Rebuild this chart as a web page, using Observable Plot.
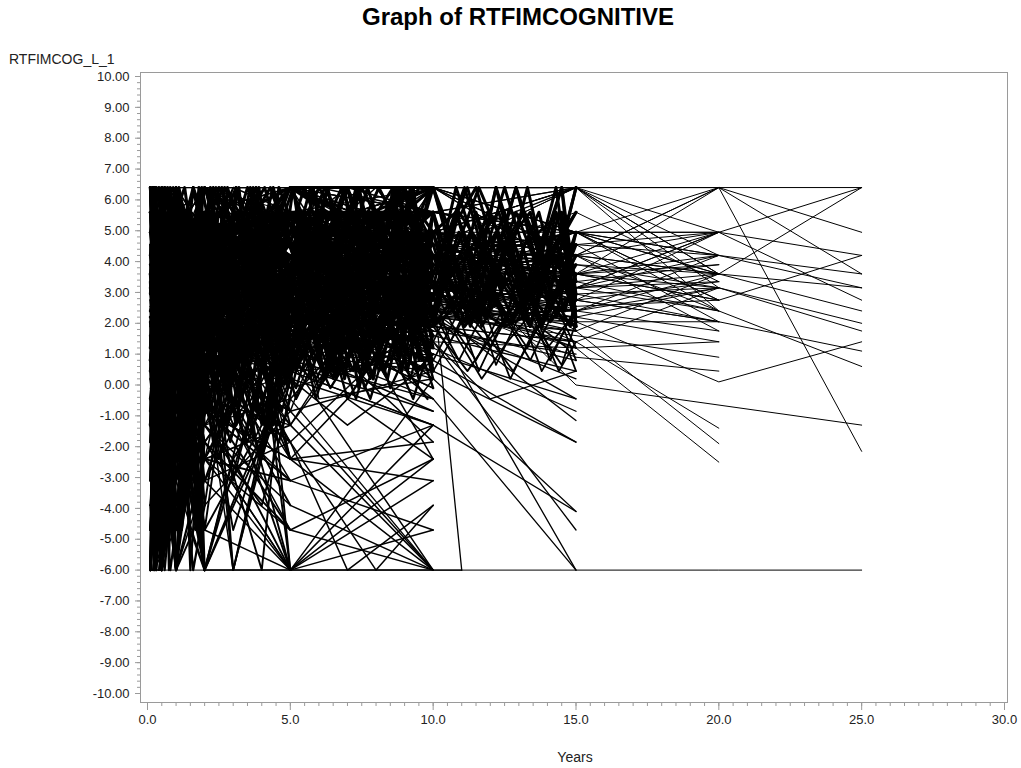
<!DOCTYPE html>
<html><head><meta charset="utf-8">
<script src="https://cdn.jsdelivr.net/npm/d3@7"></script>
<script src="https://cdn.jsdelivr.net/npm/@observablehq/plot@0.6"></script>
<style>
body{margin:0;background:#fff;font-family:"Liberation Sans",Arial,sans-serif;color:#222;}
#wrap{position:relative;width:1021px;height:768px;overflow:hidden;}
#chart{position:absolute;top:40px;left:0;z-index:1;}
#title{position:absolute;top:3px;left:0;width:1036px;text-align:center;font-weight:bold;font-size:24px;color:#000;z-index:2;}
#ylab{position:absolute;left:9px;top:51px;font-size:14px;z-index:2;}
#xlab{position:absolute;top:749px;left:0;width:1150px;text-align:center;font-size:14px;z-index:2;}
</style></head>
<body><div id="wrap">
<div id="chart"></div>
<div id="title">Graph of RTFIMCOGNITIVE</div>
<div id="ylab">RTFIMCOG_L_1</div>
<div id="xlab">Years</div>
</div>
<script>
// Axis tick values
const xTicks = [0, 5, 10, 15, 20, 25, 30];
const yTicks = [-10, -9, -8, -7, -6, -5, -4, -3, -2, -1, 0, 1, 2, 3, 4, 5, 6, 7, 8, 9, 10];

// Trajectories: flat [year, value, year, value, ...] per subject, grouped by last follow-up
const followTo25 = [
[0.1,6.4,1,6.4,2,6.4,5,6.4,10,6.4,15,6.4,20,6.4,25,6.4],
[0.1,-6,1,-6,2,-6,5,-6,10,-6,15,-6,20,-6,25,-6],
[0.3,2.4,1,3.6,2,4.2,5,4.95,10,5.6,15,6.4,20,6.4,25,4.95],
[0.2,1.4,1,2.75,2,3.15,5,4.2,10,4.2,15,4.95,20,3.6,25,6.4],
[0.4,-1.3,1,0.65,2,2.05,5,3.15,10,3.6,15,3.15,20,4.2,25,3.15],
[0.1,-3.1,0.5,0.2,1,1.75,2,2.4,5,2.75,10,3.15,15,2.75,20,4.95,25,2.75],
[0.3,0.8,1,2.2,2,2.95,5,3.6,10,4.2,15,3.6,20,2.75,25,4.2],
[0.2,3.6,1,4.2,2,4.95,5,5.6,10,4.95,15,4.2,20,6.4,25,-2.15],
[0.5,-0.45,1,1.2,2,1.9,5,2.4,10,2.75,15,2.4,20,3.15,25,1.75],
[0.2,2.05,1,3.15,2,3.6,5,4.2,10,3.9,15,4.95,20,4.2,25,3.6],
[0.3,-2.4,1,-0.1,2,1.0,5,1.75,10,2.2,15,2.05,20,0.1,25,1.4],
[0.1,0.2,1,1.6,2,2.55,5,2.95,10,3.35,15,3.15,20,2.4,25,0.6],
[0.2,1.0,1,2.4,2,3.35,5,3.9,10,4.55,15,0.0,25,-1.3],
[0.1,4.2,1,4.95,2,6.4,5,6.4,10,6.4,15,4.2,20,4.95,25,6.4],
[0.3,-0.85,1,1.4,2,2.2,5,2.75,10,3.6,15,3.6,20,3.15,25,2.0],
[0.2,2.75,1,3.6,2,4.55,5,4.95,10,4.95,15,6.4,20,3.6,25,3.15],
[0.4,-4.7,1,-1.3,2,0.45,5,1.4,10,2.4,15,2.75,20,2.05,25,1.1],
[0.1,3.15,1,3.9,2,4.2,5,4.55,10,6.4,15,4.95,20,4.95,25,4.2],
[0.2,0.45,1,1.9,2,2.75,5,3.35,10,3.15,15,4.2,20,6.4,25,3.6],
[0.3,1.75,1,2.95,2,3.9,5,4.2,10,4.95,15,3.15,20,3.6,25,2.4]
];
const followTo20 = [
[0.2,2.2,1,3.35,2,3.9,5,4.55,10,4.2,15,6.4,20,4.95],
[0.1,-1.85,1,0.8,2,1.6,5,2.4,10,2.95,15,2.4,20,3.6],
[0.3,3.9,1,4.55,2,4.95,5,6.4,10,5.6,15,4.95,20,2.75],
[0.2,0.65,1,2.05,2,2.55,5,3.35,10,3.6,15,3.9,20,3.15],
[0.5,-2.4,1,-0.45,2,1.2,5,2.2,10,2.4,15,1.75,20,-1.9],
[0.1,1.2,1,2.75,2,3.6,5,3.9,10,4.55,15,4.55,20,4.2],
[0.2,4.95,1,6.4,2,6.4,5,4.95,10,6.4,15,6.4,20,3.6],
[0.3,-0.1,1,1.75,2,2.4,5,3.15,10,3.15,15,2.75,20,2.05],
[0.1,2.55,1,3.6,2,4.2,5,4.2,10,4.95,15,3.6,20,4.95],
[0.4,-3.9,1,-1.85,2,-0.45,5,0.8,10,1.4,15,1.2,20,-2.5],
[0.2,1.6,1,2.55,2,3.15,5,3.6,10,3.9,15,4.2,20,2.4],
[0.3,3.35,1,4.2,2,4.55,5,4.95,10,4.2,15,4.95,20,6.4],
[0.1,0.2,1,1.4,2,2.05,5,2.55,10,2.75,15,0.9,20,0.45],
[0.2,2.95,1,3.9,2,4.95,5,6.4,10,6.4,15,6.4,20,6.4],
[0.5,-1.3,1,0.45,2,1.75,5,2.75,10,3.35,15,3.35,20,3.9],
[0.1,1.9,1,3.15,2,3.6,5,3.9,10,3.6,15,4.2,20,1.75],
[0.3,0.8,1,2.2,2,2.95,5,3.15,10,2.95,15,2.2,20,1.4],
[0.2,4.2,1,4.95,2,5.6,5,6.4,10,4.95,15,6.4,20,4.2],
[0.4,-0.45,1,1.0,2,1.9,5,2.2,10,2.55,15,3.15,20,3.35],
[0.1,2.4,1,3.35,2,4.2,5,4.55,10,5.6,15,4.95,20,4.95],
[0.2,-2.4,1,0.2,2,1.4,5,2.05,10,1.9,15,1.4,20,-1.4],
[0.3,3.6,1,4.55,2,4.95,5,4.95,10,4.55,15,3.9,20,3.6],
[0.1,1.4,1,2.4,2,3.35,5,3.6,10,4.2,15,6.4,20,3.15],
[0.2,0.45,1,1.6,2,2.2,5,2.95,10,3.15,15,2.55,20,2.75],
[0.4,2.05,1,2.95,2,3.6,5,4.2,10,3.9,15,3.6,20,4.2],
[0.1,-1.3,1,0.65,2,1.2,5,1.6,10,2.2,15,1.6,20,0.9],
[0.3,4.55,1,6.4,2,4.95,5,6.4,10,6.4,15,4.95,20,3.6],
[0.2,1.2,1,2.2,2,2.75,5,3.35,10,3.6,15,3.35,20,2.4],
[0.2,2.75,1,3.6,2,3.9,5,4.55,10,4.95,15,2.95,20,3.15],
[0.1,0.8,1,1.9,2,2.55,5,2.75,10,2.4,15,2.05,20,2.05],
[0.2,3.15,1,3.9,2,4.55,5,4.95,10,4.2,15,4.2,20,3.6],
[0.1,1.75,1,2.55,2,3.35,5,3.6,10,3.35,15,2.75,20,3.35],
[0.3,4.2,1,4.95,2,6.4,5,5.6,10,4.95,15,4.95,20,4.2],
[0.2,0.8,1,1.9,2,2.4,5,2.95,10,2.95,15,3.6,20,2.75],
[0.1,2.55,1,3.6,2,3.9,5,4.2,10,4.55,15,3.15,20,4.95],
[0.4,-0.85,1,0.8,2,1.6,5,2.2,10,2.4,15,2.2,20,3.15],
[0.2,3.6,1,4.55,2,4.95,5,4.95,10,6.4,15,6.4,20,2.4],
[0.1,1.2,1,2.2,2,2.95,5,3.35,10,3.9,15,4.2,20,3.6],
[0.3,2.2,1,3.15,2,3.6,5,3.9,10,3.6,15,2.95,20,2.05],
[0.2,4.95,1,5.6,2,4.95,5,6.4,10,5.6,15,4.55,20,4.95],
[0.1,0.45,1,1.4,2,2.2,5,2.55,10,2.75,15,2.4,20,1.75],
[0.2,2.95,1,3.35,2,4.2,5,4.55,10,4.2,15,3.6,20,3.9],
[0.2,4.2,1,3.6,2,4.95,5,4.2,10,4.55,15,2.4,20,4.2],
[0.1,2.4,1,2.95,2,3.6,5,3.9,10,3.15,15,4.95,20,2.75],
[0.3,3.15,1,4.2,2,4.55,5,4.95,10,4.95,15,1.75,20,3.6],
[0.2,1.6,1,2.4,2,3.15,5,3.35,10,2.95,15,4.55,20,2.05],
[0.1,4.95,1,5.6,2,6.4,5,4.95,10,4.2,15,3.15,20,4.95],
[0.4,0.8,1,1.75,2,2.4,5,2.75,10,3.35,15,1.4,20,3.15],
[0.2,3.6,1,4.55,2,4.2,5,4.55,10,3.9,15,5.6,20,3.35],
[0.1,2.2,1,2.95,2,3.35,5,3.6,10,2.55,15,1.2,20,1.4],
[0.3,5.6,1,4.95,2,4.95,5,6.4,10,6.4,15,3.6,20,6.4],
[0.2,1.2,1,2.05,2,2.75,5,3.15,10,3.6,15,4.95,20,2.4]
];
const followTo15 = [
[0.2,3.15,1,4.2,2,4.95,5,4.95,10,6.4,15,6.4],
[0.1,-0.85,1,1.2,2,2.4,5,2.75,10,3.15,15,3.6],
[0.3,1.9,1,2.95,2,3.35,5,4.2,10,4.55,15,4.2],
[0.2,-3.1,1,-0.45,2,0.8,5,1.75,10,2.05,15,-6],
[0.1,4.95,1,6.4,2,6.4,5,6.4,10,4.95,15,3.9],
[0.4,0.2,1,1.75,2,2.2,5,2.95,10,2.75,15,3.15],
[0.2,2.4,1,3.6,2,4.2,5,3.9,10,4.2,15,2.75],
[0.3,-1.85,1,0.45,2,1.4,5,2.4,10,1.4,15,-4.7],
[0.1,3.6,1,4.55,2,4.95,5,5.6,10,6.4,15,4.95],
[0.2,1.2,1,2.4,2,3.15,5,3.35,10,3.9,15,3.35],
[0.5,-4.7,1,-2.4,2,-0.85,5,0.45,10,0.8,15,-1.85],
[0.1,2.2,1,3.15,2,3.6,5,4.55,10,3.6,15,4.55],
[0.3,0.65,1,1.9,2,2.75,5,3.15,10,3.35,15,2.4],
[0.2,4.2,1,4.95,2,5.6,5,4.95,10,4.55,15,6.4],
[0.1,-0.45,1,0.8,2,1.6,5,2.2,10,2.95,15,2.05],
[0.4,2.75,1,3.9,2,4.2,5,4.2,10,4.95,15,4.2],
[0.2,1.6,1,2.55,2,2.95,5,3.6,10,2.4,15,1.4],
[0.3,-2.4,1,-0.1,2,1.0,5,1.6,10,0.2,15,-4.1],
[0.1,3.9,1,4.95,2,6.4,5,6.4,10,6.4,15,3.6],
[0.2,0.8,1,2.2,2,2.75,5,3.15,10,3.6,15,3.15],
[0.5,2.05,1,3.35,2,3.9,5,4.95,10,4.2,15,4.95],
[0.1,-1.3,1,0.65,2,1.9,5,2.55,10,2.2,15,1.75],
[0.3,4.55,1,5.6,2,4.95,5,6.4,10,5.6,15,6.4],
[0.2,1.4,1,2.4,2,3.6,5,3.9,10,3.15,15,2.75],
[0.1,-3.9,1,-1.3,2,0.2,5,1.2,10,1.6,15,0.45],
[0.4,2.95,1,3.6,2,4.55,5,4.55,10,3.9,15,3.9],
[0.2,0.45,1,1.4,2,2.4,5,2.75,10,2.55,15,2.2],
[0.3,3.35,1,4.2,2,4.95,5,4.2,10,4.95,15,4.55],
[0.1,-0.1,1,1.2,2,2.05,5,2.4,10,1.75,15,1.0],
[0.2,2.55,1,3.6,2,3.9,5,4.55,10,4.2,15,3.6],
[0.5,-6,1,-3.1,2,-1.3,5,-0.45,10,-6,11,-6],
[0.2,1.75,1,2.95,2,3.35,5,3.35,10,3.6,15,4.2],
[0.1,4.2,1,4.2,2,4.95,5,4.95,10,5.6,15,4.95],
[0.3,0.2,1,1.6,2,2.2,5,2.95,10,2.95,15,1.2],
[0.2,2.2,1,3.15,2,4.2,5,3.6,10,4.55,15,3.35],
[0.4,-1.85,1,-0.1,2,1.2,5,1.9,10,2.4,15,-1.15],
[0.1,3.15,1,4.55,2,4.55,5,5.6,10,4.95,15,6.4],
[0.2,1.0,1,2.05,2,2.95,5,3.35,10,3.15,15,2.95],
[0.3,2.4,1,3.35,2,3.6,5,4.2,10,3.35,15,2.55],
[0.1,-0.85,1,0.45,2,1.75,5,2.05,10,2.05,15,0.2],
[0.2,3.9,1,4.95,2,4.95,5,4.55,10,6.4,15,4.2],
[0.5,1.4,1,2.75,2,3.15,5,3.9,10,4.2,15,3.9],
[0.1,0.65,1,1.75,2,2.55,5,2.55,10,1.2,15,-0.85],
[0.3,2.75,1,3.9,2,4.55,5,4.95,10,3.9,15,4.95],
[0.2,-2.4,1,-0.85,2,0.45,5,1.0,10,0.45,15,-1.85],
[0.1,4.95,1,5.6,2,6.4,5,4.95,10,4.55,15,3.15],
[0.4,1.9,1,2.95,2,3.6,5,3.6,10,3.6,15,4.55],
[0.2,0.2,1,1.0,2,1.9,5,2.4,10,2.75,15,1.9],
[0.3,3.35,1,4.2,2,4.2,5,4.95,10,4.2,15,3.6],
[0.1,1.2,1,2.2,2,2.75,5,3.15,10,2.2,15,2.4],
[0.2,-1.3,1,0.2,2,1.2,5,1.4,10,-0.45,15,-6],
[0.1,2.95,1,3.6,2,4.2,5,4.2,10,3.15,15,2.75],
[0.3,0.8,1,1.9,2,2.4,5,2.95,10,2.4,15,3.15],
[0.2,4.55,1,4.95,2,5.6,5,6.4,10,4.95,15,4.2],
[0.5,-0.45,1,1.0,2,2.05,5,2.2,10,1.9,15,0.8],
[0.1,2.05,1,3.15,2,3.35,5,3.9,10,3.6,15,3.6],
[0.2,1.6,1,2.75,2,3.6,5,3.6,10,2.95,15,2.05],
[0.3,-3.1,1,-1.3,2,-0.1,5,0.8,10,1.0,15,-0.45],
[0.2,3.6,1,4.2,2,4.55,5,4.2,10,4.95,12,3.6,15,4.55],
[0.1,1.4,1,2.75,2,3.35,5,3.15,10,2.55,15,3.35],
[0.3,4.95,1,4.55,2,5.6,5,6.4,10,3.9,15,4.95],
[0.2,0.8,1,1.6,2,2.95,5,3.35,10,3.35,15,2.05],
[0.1,2.75,1,3.35,2,4.2,5,4.55,10,4.55,15,3.15],
[0.4,-0.45,1,0.8,2,2.2,5,2.55,10,3.15,15,2.4],
[0.2,2.2,1,3.6,2,3.9,5,4.95,10,3.6,15,4.2],
[0.1,3.9,1,4.95,2,4.95,5,4.2,10,4.2,15,3.6],
[0.3,1.9,1,2.4,2,3.15,5,3.6,10,3.9,15,2.75],
[0.2,-1.3,1,0.2,2,1.4,5,1.9,10,1.4,12,-0.45,15,0.45],
[0.1,4.55,1,5.6,2,4.95,5,4.95,10,3.35,15,3.9],
[0.5,0.65,1,2.05,2,2.55,5,2.95,10,3.9,15,2.95],
[0.2,2.95,1,3.9,2,4.55,5,3.9,10,2.95,15,4.2],
[0.1,1.2,1,2.2,2,2.4,5,3.15,10,4.55,15,3.35],
[0.3,3.6,1,4.2,2,3.6,5,4.55,10,2.75,15,1.75],
[0.2,0.2,1,0.8,2,1.75,5,1.4,10,2.2,15,-0.45],
[0.1,5.6,1,6.4,2,4.95,5,5.6,10,4.2,15,4.95],
[0.4,1.6,1,2.95,2,3.35,5,4.2,10,3.15,11,-6],
[0.2,-0.85,1,0.2,2,1.0,5,0.45,10,-1.3,15,-4.1],
[0.1,2.4,1,3.15,2,3.9,5,4.2,10,1.9,15,1.4]
];
const followTo10 = [
[0.1,6.4,0.5,4.2,1,6.4,2,4.95,5,6.4,10,4.2],
[0.2,-6,0.5,-1.3,1,2.2,2,3.6,5,2.4,7,4.2,10,3.15],
[0.1,1.4,0.5,4.95,1,2.75,2,5.6,3,3.15,5,4.95,10,2.2],
[0.3,4.2,1,0.8,2,3.9,4,1.6,5,3.6,10,4.95],
[0.1,-3.9,0.5,2.4,1,-0.45,2,4.2,5,1.75,10,3.6],
[0.2,3.15,1,5.6,2,2.2,3,4.55,5,0.45,8,3.35,10,1.75],
[0.1,0.2,0.5,-4.7,1,3.35,2,0.8,5,4.2,10,2.55],
[0.4,5.6,1,3.6,2,6.4,4,2.95,5,5.6,7,2.4,10,6.4],
[0.1,-1.85,1,4.2,2,1.4,3,-1.3,5,2.2,10,0.8],
[0.2,2.55,0.5,6.4,1,1.2,2,4.55,5,3.15,6,5.6,10,3.9],
[0.1,4.95,0.5,1.9,1,5.6,2,2.75,5,4.55,10,1.4],
[0.3,-6,1,-2.4,2,0.2,3,-6,5,1.2,10,2.05],
[0.1,3.6,0.5,0.45,1,4.95,2,2.05,4,4.2,5,2.75,10,5.6],
[0.2,1.0,1,6.4,2,3.35,5,6.4,8,2.2,10,4.55],
[0.1,-0.85,0.5,3.15,1,1.6,2,-0.45,5,3.9,10,0.2],
[0.5,2.2,1,4.55,2,2.55,3,5.6,5,1.4,10,3.35],
[0.1,6.4,1,2.4,2,4.95,5,2.05,7,4.95,10,2.95],
[0.2,-4.7,0.5,0.8,1,-1.85,2,2.95,5,0.8,10,-0.45],
[0.1,3.9,1,1.4,2,5.6,4,3.6,5,6.4,10,4.2],
[0.3,0.65,0.5,5.6,1,3.15,2,0.45,5,4.95,6,1.9,10,3.6],
[0.1,2.95,1,-0.1,2,3.15,5,3.35,10,6.4],
[0.2,-2.4,0.5,1.6,1,4.55,2,1.9,3,4.2,5,-0.1,10,1.2],
[0.1,4.55,1,2.95,2,6.4,5,3.6,8,5.6,10,2.4],
[0.4,1.75,1,4.95,2,-1.3,4,2.2,5,2.95,10,4.95],
[0.1,-6,0.5,-6,1,-3.1,2,-6,5,-6,10,-6],
[0.2,5.6,1,6.4,2,4.2,5,4.95,7,6.4,10,5.6],
[0.1,0.45,0.5,2.95,1,0.2,2,3.35,5,2.2,10,2.75],
[0.3,3.35,1,1.9,2,4.2,3,2.4,5,4.2,10,3.15],
[0.1,-1.3,1,2.75,2,0.65,5,2.55,8,0.8,10,2.2],
[0.2,2.4,0.5,-0.85,1,3.9,2,2.2,5,5.6,10,3.9],
[0.1,6.4,0.5,6.4,1,4.95,2,6.4,5,4.2,10,6.4],
[0.5,-3.1,1,0.8,2,-2.4,3,1.4,5,-1.3,7,1.6,10,0.45],
[0.1,1.9,1,5.6,2,3.6,4,5.6,5,2.4,10,4.55],
[0.2,4.2,0.5,2.2,1,4.2,2,1.2,5,3.15,6,4.55,10,2.05],
[0.1,-0.45,1,-2.4,2,2.55,5,1.6,10,1.75],
[0.3,2.75,1,0.65,2,4.95,5,3.9,10,3.35],
[0.1,5.6,0.5,3.6,1,6.4,2,3.15,3,6.4,5,5.6,10,4.2],
[0.2,-6,1,-4.7,2,-1.85,5,-6,10,-2.4],
[0.1,3.15,0.5,4.95,1,2.05,2,4.55,5,2.75,8,4.2,10,1.9],
[0.4,0.8,1,3.35,2,1.75,4,-0.45,5,1.9,10,2.95],
[0.1,4.95,1,3.15,2,2.95,5,4.55,7,2.75,10,4.95],
[0.2,-1.85,0.5,0.2,1,2.55,2,-0.85,3,2.05,5,0.2,10,-1.3],
[0.1,2.05,1,4.2,2,6.4,5,2.95,10,2.4],
[0.3,6.4,0.5,2.75,1,3.9,2,5.6,5,3.35,6,6.4,10,5.6],
[0.1,-3.9,1,-0.85,2,1.0,4,-2.4,5,0.65,10,-0.85],
[0.2,1.2,0.5,3.6,1,0.45,2,2.4,5,3.6,10,1.0],
[0.1,3.6,1,6.4,2,3.9,3,0.8,5,4.95,10,3.6],
[0.5,-0.1,1,1.6,2,4.2,5,-0.45,8,2.55,10,0.8],
[0.1,5.6,1,4.55,2,2.4,5,6.4,10,4.55],
[0.2,-6,0.5,-2.4,1,-6,2,-3.1,5,-1.85,7,-6,10,-3.9],
[0.1,2.2,1,2.95,2,5.6,4,3.35,5,4.2,10,2.75],
[0.3,4.2,0.5,6.4,1,1.4,2,3.35,5,1.2,10,3.15],
[0.1,0.2,1,4.95,2,1.6,3,3.9,5,2.55,10,4.2],
[0.2,-2.4,1,1.2,2,-0.1,5,2.95,6,0.2,10,1.4],
[0.1,3.35,0.5,1.4,1,3.6,2,6.4,5,4.2,10,5.6],
[0.4,1.6,1,-0.85,2,2.75,5,1.0,10,2.4],
[0.1,6.4,1,5.6,2,4.55,3,6.4,5,3.9,8,6.4,10,3.9],
[0.2,-4.7,0.5,-0.45,1,1.9,2,-1.85,5,2.05,10,-0.1],
[0.1,2.55,1,3.6,2,1.2,5,4.95,10,2.2],
[0.3,4.95,0.5,3.15,1,5.6,2,4.2,4,1.9,5,5.6,10,3.35],
[0.1,-0.85,1,2.2,2,0.8,5,3.6,7,1.4,10,1.6],
[0.2,1.4,1,4.2,2,2.95,5,-0.85,10,0.45],
[0.1,3.9,0.5,0.2,1,2.75,2,4.95,5,2.2,10,4.95],
[0.5,0.45,1,-1.3,2,3.6,3,0.45,5,3.15,10,-0.45],
[0.1,5.6,1,3.35,2,6.4,5,4.55,6,2.95,10,6.4],
[0.2,-3.1,1,0.45,2,-0.45,4,1.75,5,-2.4,10,-1.85],
[0.1,2.75,0.5,4.55,1,1.0,2,3.9,5,1.6,8,3.9,10,2.55],
[0.3,6.4,1,2.05,2,2.2,5,5.6,10,3.6],
[0.1,-1.3,1,3.15,2,1.4,5,0.45,10,-1.3],
[0.2,4.55,0.5,1.2,1,4.55,2,0.2,3,3.35,5,3.9,10,4.2],
[0.1,0.8,1,5.6,2,2.55,5,2.4,7,4.95,10,1.2],
[0.4,-6,1,-1.85,2,-3.9,5,-0.85,10,-6],
[0.1,3.15,0.5,2.2,1,6.4,2,2.75,5,6.4,10,4.55],
[0.2,1.75,1,0.2,2,4.55,4,2.55,5,1.4,10,2.95],
[0.1,-2.4,0.5,2.05,1,-0.85,2,1.6,5,-3.1,10,-4.7],
[0.3,4.2,1,3.9,2,3.35,5,2.75,6,4.95,10,3.15],
[0.1,2.4,1,4.95,2,0.45,5,3.35,10,2.05],
[0.2,5.6,0.5,2.55,1,3.35,2,6.4,3,2.2,5,4.55,10,5.6],
[0.1,-0.45,1,0.65,2,3.15,5,-1.85,8,0.8,10,-2.4],
[0.5,3.6,1,2.4,2,5.6,5,3.15,10,4.95],
[0.1,1.0,0.5,6.4,1,2.2,2,1.4,5,3.6,10,0.65],
[0.2,-6,1,-3.1,2,0.45,5,-4.7,10,-6],
[0.1,4.95,1,1.6,2,3.6,4,4.95,5,2.95,10,3.35],
[0.3,2.05,0.5,4.2,1,4.95,2,2.95,5,5.6,7,3.35,10,4.2],
[0.1,-1.85,1,1.4,2,-1.3,5,1.2,10,-0.85],
[0.2,3.35,1,5.6,2,2.05,5,4.2,10,2.75],
[0.1,0.2,0.5,-1.85,1,3.6,2,4.95,3,1.6,5,0.8,10,1.9],
[0.4,6.4,1,4.2,2,3.6,5,6.4,10,4.55],
[0.1,1.6,1,-0.45,2,2.2,5,3.15,6,-0.45,10,0.2],
[0.2,-3.9,0.5,-6,1,-0.1,2,2.05,5,-2.4,10,-3.1],
[0.1,2.95,1,3.9,2,4.95,4,2.75,5,4.95,10,6.4],
[0.2,-4.7,1,-2.4,2,-3.1,5,-6,10,-1.3],
[0.1,-1.3,1,-0.85,2,-2.4,5,-6,10,0.2],
[0.3,-2.4,1,-1.3,2,-4.7,5,-6,10,-3.1],
[0.1,0.2,1,-1.85,2,-0.45,5,-1.3,10,-6],
[0.2,-0.85,1,0.45,2,1.2,5,0.8,10,-6],
[0.1,-3.1,1,-0.45,2,-1.3,5,-3.9,10,-6],
[0.2,-6,1,-2.4,2,-1.85,5,-6,10,-4.7],
[0.4,-1.85,1,-3.9,2,-0.85,5,-2.4,10,-6],
[0.1,1.6,1,-0.45,2,-2.4,5,-4.7,10,-2.4],
[0.3,-0.45,1,-1.3,2,0.2,5,-1.85,8,-6,10,-3.9],
[0.1,-4.7,1,-2.4,2,-0.85,5,-2.4,7,-0.45,10,-2.4],
[0.1,-3.1,1,-1.3,2,0.8,5,-0.85,6,1.6,10,-1.85],
[0.1,-3.9,1,-1.85,2,-0.45,5,-3.1,10,-1.3],
[0.2,-2.4,1,0.45,2,2.55,5,0.2,7,-1.3,10,0.8],
[0.1,-1.3,1,-0.45,2,1.9,5,-1.3,7,1.2,10,-0.1]
];
const followTo5 = [
[0.1,6.4,0.5,-6,1,4.2,2,2.4,5,4.95],
[0.1,-6,0.25,6.4,0.5,0.8,1,-6,2,3.15,5,1.4],
[0.2,3.6,0.5,6.4,1,-2.4,2,5.6,3,-6,5,2.2],
[0.1,-4.7,0.25,2.2,0.5,-6,1,3.9,2,-6,5,3.6],
[0.1,2.2,0.5,4.95,1,0.45,2,-3.1,4,2.05,5,-1.3],
[0.3,5.6,0.5,1.2,1,6.4,2,-6,5,0.65],
[0.1,-1.3,0.25,-6,0.75,4.55,1,1.2,2,4.2,5,-6],
[0.1,0.8,0.5,-3.9,1,5.6,2,0.2,4,-6,5,2.95],
[0.2,4.2,0.5,2.75,1,-6,2,1.9,3,-3.1,5,4.2],
[0.1,-6,0.5,-2.4,1,0.65,2,-1.85,5,-4.7],
[0.1,3.15,0.25,-0.85,0.5,6.4,1,2.95,2,-2.4,5,3.35],
[0.3,-2.4,0.5,3.6,1,-4.7,2,2.75,3,0.2,5,-0.85],
[0.1,6.4,0.25,4.2,0.5,-1.3,1,3.6,2,6.4,5,-2.4],
[0.1,1.6,0.5,5.6,1,-0.85,2,3.9,4,-1.85,5,1.9],
[0.2,-3.1,0.5,0.45,1,4.95,2,-6,5,0.2],
[0.1,4.55,0.25,-6,0.5,2.2,1,-1.3,2,1.2,5,-3.9],
[0.1,-0.45,0.5,-6,1,2.4,2,4.95,3,2.95,5,5.6],
[0.3,2.75,0.75,-2.4,1,6.4,2,-0.45,5,2.4],
[0.1,-6,0.5,4.95,1,-3.1,2,0.8,4,3.35,5,-6],
[0.1,5.6,0.5,-0.45,1,1.9,2,-4.7,3,1.75,5,3.15],
[0.2,0.2,0.25,3.9,0.5,-2.4,1,4.2,2,2.2,5,-1.85],
[0.1,-2.4,0.5,6.4,1,-6,2,3.35,5,1.0],
[0.1,3.9,0.5,1.6,1,3.35,2,-1.3,4,-3.9,5,-0.45],
[0.4,-4.7,1,-0.45,2,-6,3,-2.4,5,-6],
[0.1,1.2,0.25,6.4,0.5,-3.9,1,2.2,2,5.6,5,2.75],
[0.1,-6,0.5,1.4,1,-2.4,2,-0.85,5,-3.1],
[0.2,4.95,0.5,-4.7,1,0.2,2,2.95,3,-6,5,1.6],
[0.1,-0.85,0.25,1.9,0.5,4.2,1,-3.9,2,1.6,5,4.55],
[0.1,2.4,0.5,-1.3,1,5.6,2,-2.4,4,0.8,5,-2.4],
[0.3,6.4,0.5,3.15,1,-1.85,2,4.55,5,3.9],
[0.1,-3.9,0.5,2.95,1,-6,2,-3.9,3,2.2,5,0.45],
[0.1,0.45,0.25,-3.1,0.75,6.4,1,3.15,2,-1.85,5,2.05],
[0.2,3.35,0.5,-6,1,1.4,2,6.4,4,1.2,5,-6],
[0.1,-1.85,0.5,5.6,1,-1.3,2,2.4,5,-0.1],
[0.1,5.6,0.25,0.8,0.5,4.95,1,-4.7,2,3.6,5,4.95],
[0.4,1.4,1,-6,2,0.45,3,-4.7,5,1.2],
[0.1,-6,0.5,3.35,1,4.55,2,-2.4,5,-1.3],
[0.1,2.05,0.5,-2.4,1,0.8,2,4.2,4,-0.85,5,3.6],
[0.2,-0.45,0.25,6.4,0.5,-6,1,5.6,2,-0.45,5,-4.7],
[0.1,4.2,0.5,0.2,1,-3.1,2,1.4,3,4.95,5,2.2],
[0.1,-4.7,0.75,1.2,1,-6,2,3.9,5,-2.4],
[0.3,3.9,0.5,-1.85,1,6.4,2,-3.1,5,1.75],
[0.1,-2.4,0.5,4.55,1,1.6,2,-6,4,1.4,5,-0.85],
[0.1,0.8,0.25,-4.7,0.5,3.6,1,-0.45,2,2.05,5,-6],
[0.2,6.4,0.5,-3.1,1,2.75,2,-1.3,3,-2.4,5,0.8],
[0.1,-1.3,0.5,-6,1,3.15,2,0.2,5,-1.85],
[0.1,2.95,0.5,6.4,1,-2.4,2,-4.7,4,-1.3,5,2.4],
[0.4,-6,1,0.45,2,-2.4,5,-3.1]
];
const followTo2 = [
[0.1,6.4,0.25,-6,0.5,6.4,1,-6,2,4.2],
[0.1,-6,0.25,4.95,0.5,-4.7,1,6.4,2,-6],
[0.1,2.2,0.3,-6,0.5,3.6,0.75,-3.1,1,5.6,1.5,-6,2,0.8],
[0.1,-3.1,0.25,6.4,0.5,-6,1,1.4,2,-4.7],
[0.1,4.55,0.5,-2.4,1,-6,1.5,3.9,2,-1.3],
[0.2,-6,0.5,2.75,1,-1.85,2,6.4],
[0.1,0.8,0.25,-4.7,0.5,5.6,1,-6,1.5,2.4,2,-3.9],
[0.1,6.4,0.3,1.2,0.5,-6,0.75,4.2,1,-2.4,2,2.95],
[0.1,-1.85,0.5,6.4,1,-3.9,2,1.9],
[0.2,3.15,0.5,-6,1,3.6,1.5,-4.7,2,-6],
[0.1,-6,0.25,0.45,0.5,6.4,1,-0.85,2,-2.4],
[0.1,5.6,0.25,-2.4,0.5,-6,1,2.2,2,5.6],
[0.1,-4.7,0.5,4.2,0.75,-6,1,4.95,2,-0.85],
[0.3,1.6,0.5,-3.9,1,6.4,1.5,-1.3,2,3.6],
[0.1,-6,0.5,-1.3,1,-6,2,-2.4],
[0.1,3.6,0.25,6.4,0.5,-4.7,1,0.2,2,-6],
[0.1,-0.45,0.3,-6,0.5,1.9,1,-6,2,4.95],
[0.1,6.4,0.5,2.2,1,6.4,1.5,-2.4,2,-4.7],
[0.2,-2.4,0.5,-6,0.75,5.6,1,-4.7,2,1.2],
[0.1,4.2,0.25,-3.9,0.5,2.95,1,-1.85,2,-3.1],
[0.1,-6,0.5,6.4,1,2.75,2,-6],
[0.1,1.2,0.25,5.6,0.5,-0.85,1,-6,1.5,0.45,2,-1.85],
[0.3,-4.7,0.5,-0.1,1,3.9,2,-6],
[0.1,2.75,0.5,-6,1,-2.4,2,3.15],
[0.1,-3.9,0.25,-6,0.5,4.55,1,6.4,2,2.4],
[0.1,6.4,0.3,-6,0.5,-3.1,1,1.2,2,-2.4],
[0.2,0.2,0.5,4.95,1,-4.7,1.5,4.2,2,-0.45],
[0.1,-6,0.25,2.75,0.5,-6,1,-1.3,2,-6],
[0.1,5.6,0.5,-1.85,1,4.55,2,-4.7],
[0.1,-1.3,0.3,4.2,0.5,-6,0.75,1.6,1,-3.1,2,0.45],
[0.1,-4.7,0.4,-1.3,0.8,-6,1.3,-2.4,1.7,-4.7,2,-1.85],
[0.2,-3.1,0.6,-6,1.1,-0.85,1.6,-6,2,-3.9],
[0.1,-2.4,0.35,-4.7,0.9,-1.3,1.4,-3.9,1.8,-0.45,2,-6]
];
// Frequently measured subjects inside the dense band (to year 10)
const bandTo10 = [
[0.1,6.4,0.4,-1.3,0.9,4.95,1.6,0.2,2.3,5.6,3.2,-0.45,4.1,4.2,5,0.45,5.8,6.4,6.9,1.2,7.7,4.95,8.8,0.8,10,5.6],
[0.2,0.2,0.6,5.6,1.2,-0.85,1.8,6.4,2.6,0.8,3.5,5.6,4.4,-1.3,5.3,4.95,6.2,0.2,7.3,5.6,8.1,1.4,9.2,6.4,10,2.2],
[0.1,3.6,0.3,-0.45,0.8,6.4,1.4,1.2,2.1,4.2,2.8,0.45,3.7,6.4,4.6,1.75,5.5,4.95,6.5,0.45,7.4,6.4,8.5,2.05,9.6,4.55],
[0.2,-1.3,0.5,4.2,1.0,0.8,1.5,5.6,2.4,-0.85,3.3,4.55,4.3,1.2,5.1,6.4,6.0,1.9,6.7,4.2,7.9,0.2,9.0,4.95,9.8,1.4],
[0.1,5.6,0.6,2.05,1.3,-1.3,1.9,4.55,2.7,2.4,3.6,6.4,4.8,0.2,5.6,3.15,6.4,5.6,7.1,2.2,8.3,5.6,9.4,1.2,10,3.6],
[0.3,2.4,0.7,6.4,1.1,2.95,1.7,-0.45,2.2,6.4,3.0,1.6,3.9,5.6,4.9,-0.1,5.9,3.6,7.0,6.4,8.0,2.4,8.7,5.6,9.5,0.8],
[0.1,-0.45,0.5,3.15,0.9,5.6,1.3,2.2,2.0,1.2,2.9,3.9,3.8,-0.85,4.7,5.6,5.7,2.55,6.6,0.2,7.5,4.55,8.4,2.95,9.9,6.4],
[0.2,4.95,0.4,0.8,1.0,3.6,1.6,-1.3,2.5,4.95,3.4,0.2,4.5,3.35,5.4,2.4,6.3,6.4,7.2,3.35,8.2,0.65,9.1,4.2,10,2.75],
[0.1,1.2,0.3,4.95,0.7,0.2,1.5,3.9,2.2,3.35,3.1,-1.3,4.0,4.95,5.2,0.8,6.1,4.2,6.8,1.75,7.8,5.6,8.9,0.45,9.7,3.9],
[0.2,6.4,0.6,1.9,1.2,4.2,1.9,5.6,2.8,-0.45,3.7,5.6,4.2,2.2,5.0,4.2,6.6,0.45,7.6,4.95,8.6,2.95,9.3,6.4,10,1.9],
[0.1,0.8,0.5,6.4,1.1,1.6,1.8,0.2,2.6,4.55,3.3,2.4,4.4,6.4,5.5,2.95,6.2,5.6,7.4,-0.1,8.0,3.6,9.0,1.75,10,4.95],
[0.3,3.15,0.8,-0.85,1.4,5.6,2.0,3.15,2.5,1.75,3.5,4.95,4.6,0.45,5.3,5.6,5.9,1.2,6.9,3.9,7.7,6.4,8.8,3.35,9.5,0.2],
[0.1,-1.3,0.4,2.75,0.9,0.45,1.6,6.4,2.3,2.95,3.2,0.8,4.1,5.6,5,1.2,5.8,4.55,6.9,2.75,7.7,1.2,8.8,5.6,10,3.15],
[0.2,4.2,0.6,5.6,1.2,-0.45,1.8,2.75,2.6,6.4,3.5,3.15,4.4,1.6,5.3,4.55,6.2,2.2,7.3,6.4,8.1,4.2,9.2,0.8,10,5.6],
[0.1,2.05,0.3,0.2,0.8,3.9,1.4,4.95,2.1,0.2,2.8,6.4,3.7,3.6,4.6,0.2,5.5,5.6,6.5,1.4,7.4,2.2,8.5,4.55,9.6,2.4],
[0.2,5.6,0.5,3.6,1.0,1.2,1.5,-0.85,2.4,3.9,3.3,1.2,4.3,4.2,5.1,6.4,6.0,0.8,6.7,3.15,7.9,5.6,9.0,2.4,9.8,4.2],
[0.1,0.45,0.6,4.55,1.3,6.4,1.9,2.4,2.7,-1.3,3.6,3.6,4.8,0.8,5.6,2.2,6.4,4.2,7.1,5.6,8.3,0.45,9.4,3.9,10,1.2],
[0.3,3.9,0.7,-1.3,1.1,2.4,1.7,4.2,2.2,5.6,3.0,-0.85,3.9,2.95,4.9,4.95,5.9,1.6,7.0,0.8,8.0,4.95,8.7,6.4,9.5,3.35],
[0.1,-0.85,0.5,2.2,0.9,4.55,1.3,0.8,2.0,2.2,2.9,4.55,3.8,6.4,4.7,1.4,5.7,3.15,6.6,4.55,7.5,1.75,8.4,0.2,9.9,6.4],
[0.2,6.4,0.4,4.95,1.0,0.2,1.6,3.35,2.5,4.2,3.4,2.05,4.5,-0.45,5.4,3.6,6.3,6.4,7.2,2.4,8.2,3.35,9.1,4.95,10,0.45],
[0.1,1.6,0.3,0.2,0.7,3.15,1.5,5.6,2.2,1.6,3.1,5.6,4.0,3.9,5.2,0.45,6.1,2.4,6.8,5.6,7.8,2.95,8.9,1.4,9.7,4.55],
[0.2,4.55,0.6,2.95,1.2,5.6,1.9,1.6,2.8,-0.1,3.7,2.75,4.2,1.2,5.0,5.6,6.6,3.9,7.6,0.45,8.6,6.4,9.3,2.95,10,2.95],
[0.1,-1.3,0.5,5.6,1.1,2.05,1.8,4.55,2.6,3.15,3.3,0.2,4.4,4.55,5.5,2.55,6.2,0.2,7.4,3.6,8.0,1.4,9.0,5.6,10,3.6],
[0.3,2.75,0.8,1.2,1.4,-0.85,2.0,3.6,2.5,5.6,3.5,4.2,4.6,2.4,5.3,4.2,5.9,4.95,6.9,1.9,7.7,4.2,8.8,0.8,9.5,5.6],
[0.1,5.6,0.4,3.9,0.9,4.95,1.6,0.45,2.3,2.55,3.2,6.4,4.1,-1.3,5,1.9,5.8,3.35,6.9,6.4,7.7,0.8,8.8,3.35,10,1.6],
[0.2,0.2,0.6,6.4,1.2,3.35,1.8,5.6,2.6,0.45,3.5,1.9,4.4,5.6,5.3,3.9,6.2,1.2,7.3,4.2,8.1,5.6,9.2,2.2,10,4.2],
[0.1,3.35,0.3,-0.45,0.8,1.4,1.4,2.4,2.1,4.95,2.8,3.35,3.7,0.2,4.6,6.4,5.5,4.2,6.5,0.8,7.4,3.15,8.5,4.55,9.6,0.8],
[0.2,-0.45,0.5,4.2,1.0,6.4,1.5,4.2,2.4,1.9,3.3,-0.45,4.3,3.6,5.1,1.0,6.0,5.6,6.7,2.95,7.9,0.2,9.0,6.4,9.8,2.4],
[0.1,4.95,0.6,1.4,1.3,0.45,1.9,-1.3,2.7,6.4,3.6,4.95,4.8,1.9,5.6,4.55,6.4,0.45,7.1,5.6,8.3,3.6,9.4,1.9,10,5.6],
[0.3,1.9,0.7,3.35,1.1,4.95,1.7,2.95,2.2,0.8,3.0,2.2,3.9,6.4,4.9,0.2,5.9,2.95,7.0,1.2,8.0,4.95,8.7,3.6,9.5,3.15],
[0.1,6.4,0.5,-0.85,0.9,2.2,1.3,4.95,2.0,3.6,2.9,0.45,3.8,4.95,4.7,2.75,5.7,6.4,6.6,3.6,7.5,1.2,8.4,4.2,9.9,1.0],
[0.2,-1.3,0.4,1.6,1.0,5.6,1.6,0.45,2.5,5.6,3.4,3.9,4.5,1.4,5.4,5.6,6.3,0.8,7.2,2.2,8.2,5.6,9.1,0.45,10,4.95],
[0.1,2.95,0.3,5.6,0.7,1.9,1.5,3.6,2.2,-0.45,3.1,6.4,4.0,2.55,5.2,0.8,6.1,4.55,6.8,0.45,7.8,2.55,8.9,5.6,9.7,2.2],
[0.2,4.2,0.6,0.45,1.2,3.6,1.9,6.4,2.8,2.2,3.7,1.4,4.2,5.6,5.0,3.35,6.6,1.9,7.6,4.95,8.6,6.4,9.3,1.4,10,3.9],
[0.1,0.8,0.5,4.95,1.1,-0.45,1.8,2.05,2.6,4.2,3.3,5.6,4.4,0.8,5.5,4.95,6.2,3.15,7.4,6.4,8.0,2.05,9.0,3.15,10,0.45],
[0.3,5.6,0.8,2.4,1.4,4.55,2.0,0.2,2.5,3.35,3.5,2.55,4.6,4.2,5.3,1.4,5.9,5.6,6.9,0.2,7.7,4.55,8.8,6.4,9.5,2.75]
];
// Frequently measured subjects near the lower edge of the dense band
const bandLow = [
[0.1,-6,0.4,3.15,0.9,-3.9,1.6,2.4,2.3,-1.85,3.1,2.2,4.0,-1.3,5,2.95,5.9,-0.45,6.8,2.4,7.8,0.2,8.9,3.15,10,0.45],
[0.2,2.95,0.6,-4.7,1.1,1.6,1.7,-2.4,2.5,2.55,3.4,-1.85,4.3,1.9,5.2,-0.1,6.2,2.95,7.2,0.45,8.1,2.05,9.3,-0.45,10,1.6],
[0.1,-3.1,0.3,4.55,0.8,-1.85,1.5,1.9,2.2,-0.85,3.0,2.75,3.9,-2.4,4.8,1.2,5.7,0.2,6.6,3.35,7.6,-0.1,8.6,1.75,9.6,2.2],
[0.3,1.6,0.7,-3.1,1.3,3.6,1.9,-1.3,2.7,1.4,3.6,-1.3,4.5,2.55,5.4,0.45,6.4,1.9,7.3,-0.45,8.3,2.75,9.2,0.2,10,2.95],
[0.1,-4.7,0.5,1.9,1.0,-2.4,1.6,3.15,2.4,-1.85,3.3,1.75,4.2,0.2,5.1,2.4,6.0,-0.1,6.9,1.2,7.9,3.6,8.8,0.8,9.8,-0.45],
[0.2,3.9,0.6,-1.3,1.2,-4.7,1.8,0.8,2.6,2.2,3.5,-0.45,4.6,-1.85,5.5,1.6,6.3,3.15,7.1,0.45,8.0,1.4,9.0,2.55,10,0.8],
[0.1,-2.4,0.4,2.4,0.9,0.2,1.4,-3.1,2.1,1.2,2.9,-1.85,3.8,1.4,4.7,-0.85,5.6,2.2,6.5,0.2,7.5,2.95,8.5,-0.1,9.5,1.9],
[0.3,0.45,0.8,-3.9,1.4,2.2,2.0,-0.45,2.8,-1.3,3.7,2.05,4.4,-0.45,5.3,0.8,6.1,2.55,7.0,-0.45,8.2,1.2,9.1,3.35,10,0.2],
[0.1,-6,0.3,-1.3,0.7,2.95,1.3,-1.85,2.0,0.45,3.2,1.6,4.1,-1.3,5.0,3.6,5.8,0.8,6.7,2.2,7.7,0.45,8.7,2.4,9.9,1.2],
[0.2,2.2,0.5,-2.4,1.1,1.2,1.7,-4.7,2.3,2.95,3.1,0.2,4.0,-2.4,4.9,2.05,5.9,0.2,6.8,1.75,7.8,-0.45,8.9,2.95,10,-0.1],
[0.1,-1.85,0.6,4.2,1.0,-0.85,1.5,1.4,2.5,-2.4,3.4,0.8,4.3,2.4,5.2,-0.45,6.2,1.4,7.2,3.35,8.1,0.45,9.2,1.6,10,2.55],
[0.3,-3.9,0.7,0.8,1.2,-2.4,1.9,2.55,2.6,0.2,3.5,-1.85,4.5,0.8,5.4,1.9,6.4,-0.1,7.4,1.4,8.4,2.2,9.4,0.45,10,1.0]
];
// Frequently measured subjects near the ceiling
const bandHigh = [
[0.1,4.95,0.4,6.4,0.9,3.9,1.6,6.4,2.3,4.55,3.1,6.4,4.0,4.2,5,6.4,5.9,4.55,6.8,6.4,7.8,3.9,8.9,6.4,10,4.95],
[0.2,6.4,0.6,4.2,1.1,6.4,1.7,3.6,2.5,6.4,3.4,4.95,4.3,6.4,5.2,3.9,6.2,6.4,7.2,4.55,8.1,6.4,9.3,4.2,10,6.4],
[0.1,5.6,0.3,3.6,0.8,5.6,1.5,4.95,2.2,3.9,3.0,5.6,3.9,4.55,4.8,5.6,5.7,3.6,6.6,5.6,7.6,4.95,8.6,5.6,9.6,3.6],
[0.3,3.9,0.7,5.6,1.3,4.55,1.9,5.6,2.7,4.95,3.6,3.6,4.5,5.6,5.4,4.95,6.4,5.6,7.3,3.9,8.3,4.95,9.2,5.6,10,4.2],
[0.1,6.4,0.5,4.95,1.0,5.6,1.6,4.2,2.4,6.4,3.3,4.2,4.2,5.6,5.1,4.55,6.0,6.4,6.9,4.95,7.9,5.6,8.8,3.9,9.8,5.6],
[0.2,4.55,0.6,6.4,1.2,4.2,1.8,5.6,2.6,3.6,3.5,6.4,4.6,3.9,5.5,6.4,6.3,4.2,7.1,5.6,8.0,4.2,9.0,6.4,10,4.55],
[0.1,3.6,0.4,5.6,0.9,6.4,1.4,3.9,2.1,5.6,2.9,4.55,3.8,6.4,4.7,4.2,5.6,5.6,6.5,4.2,7.5,6.4,8.5,4.55,9.5,6.4],
[0.3,5.6,0.8,4.55,1.4,3.6,2.0,6.4,2.8,4.2,3.7,5.6,4.4,3.6,5.3,5.6,6.1,3.9,7.0,6.4,8.2,3.6,9.1,5.6,10,3.9],
[0.1,4.2,0.3,6.4,0.7,4.95,1.3,5.6,2.0,4.2,3.2,4.95,4.1,6.4,5.0,3.6,5.8,4.95,6.7,3.6,7.7,5.6,8.7,4.2,9.9,4.95],
[0.2,6.4,0.5,3.9,1.1,5.6,1.7,4.55,2.3,6.4,3.1,3.9,4.0,4.95,4.9,5.6,5.9,4.55,6.8,5.6,7.8,4.55,8.9,6.4,10,3.6]
];
// Frequently measured subjects inside the dense band (to year 15)
const bandTo15 = [
[0.2,3.15,1,4.95,2,1.9,5,4.2,10,1.9,10.8,5.6,11.9,2.2,12.7,4.95,13.8,1.9,15,4.2],
[0.1,1.2,1,3.6,2,5.6,5,2.4,10,6.4,11.3,2.4,12.2,6.4,13.4,1.9,14.3,5.6,15,2.75],
[0.3,4.95,1,2.2,2,3.6,5,5.6,10,2.2,10.6,4.55,11.6,2.05,12.9,6.4,14.1,3.15,15,6.4],
[0.1,0.45,1,4.2,2,2.4,5,1.2,10,4.95,11.1,2.05,12.5,5.6,13.2,2.75,14.5,6.4,15,1.9],
[0.2,5.6,1,1.4,2,4.95,5,3.6,10,3.15,10.8,6.4,11.9,3.35,12.7,2.05,13.8,4.2,15,3.6],
[0.1,2.4,1,5.6,2,0.8,5,4.95,10,5.6,11.3,1.9,12.2,4.2,13.4,5.6,14.3,2.2,15,4.95],
[0.4,-0.45,1,2.95,2,4.2,5,2.2,10,1.9,10.6,3.9,11.6,6.4,12.9,3.6,14.1,2.05,15,3.15],
[0.1,4.2,1,0.8,2,3.15,5,6.4,10,4.2,11.1,2.75,12.5,1.9,13.2,4.55,14.5,5.6,15,2.2],
[0.2,1.9,1,4.55,2,5.6,5,1.9,10,2.75,10.8,5.6,11.9,2.95,12.7,2.05,13.8,3.6,15,5.6],
[0.1,6.4,1,3.35,2,2.2,5,4.55,10,6.4,11.3,2.05,12.2,4.95,13.4,3.15,14.3,6.4,15,1.9],
[0.3,2.95,1,1.2,2,4.55,5,3.15,10,2.05,10.6,4.2,11.6,2.4,12.9,6.4,14.1,2.4,15,4.55],
[0.1,0.8,1,5.6,2,1.4,5,5.6,10,3.6,11.1,6.4,12.5,1.9,13.2,2.2,14.5,4.95,15,3.35],
[0.2,4.55,1,2.4,2,6.4,5,2.75,10,4.55,10.8,2.2,11.9,5.6,12.7,4.2,13.8,1.9,15,6.4],
[0.1,3.6,1,0.2,2,2.95,5,4.2,10,2.4,11.3,4.95,12.2,3.6,13.4,1.9,14.3,4.55,15,2.4],
[0.4,1.4,1,3.9,2,4.95,5,1.6,10,5.6,10.6,3.15,11.6,2.05,12.9,5.6,14.1,2.75,15,4.2],
[0.1,5.6,1,4.95,2,1.2,5,6.4,10,3.35,11.1,1.9,12.5,4.2,13.2,2.4,14.5,6.4,15,2.95],
[0.2,2.2,1,1.6,2,3.9,5,2.95,10,4.95,10.8,5.6,11.9,2.75,12.7,4.95,13.8,2.05,15,3.9],
[0.1,3.9,1,4.2,2,2.4,5,4.95,10,1.9,11.3,2.95,12.2,6.4,13.4,2.95,14.3,4.2,15,2.05],
[0.2,4.2,1,3.6,2,4.55,5,3.9,10,4.95,10.7,2.4,11.5,5.6,12.4,3.15,13.3,6.4,14.2,2.75,15,4.95],
[0.1,3.15,1,4.2,2,3.6,5,4.55,10,2.4,10.9,4.95,11.8,2.2,12.6,4.55,13.6,2.4,14.4,5.6,15,3.35],
[0.3,2.75,1,3.35,2,4.95,5,4.2,10,3.6,11.2,6.4,12.0,3.9,12.8,2.05,13.9,4.95,14.7,3.15,15,2.2],
[0.1,4.95,1,4.55,2,3.9,5,5.6,10,5.6,10.5,3.35,11.4,4.55,12.3,5.6,13.1,2.75,14.0,4.2,15,5.6],
[0.2,1.9,1,2.95,2,3.35,5,3.6,10,2.95,11.0,4.2,11.7,1.9,12.9,3.9,13.7,5.6,14.6,2.4,15,3.6],
[0.1,3.6,1,4.95,2,5.6,5,4.95,10,4.2,10.8,2.2,11.6,3.6,12.5,6.4,13.5,3.35,14.3,4.2,15,2.05],
[0.4,2.4,1,3.15,2,3.9,5,3.15,10,1.9,11.3,3.6,12.2,4.95,13.0,2.4,13.8,3.6,14.8,1.9,15,2.95],
[0.1,5.6,1,4.2,2,4.95,5,6.4,10,6.4,10.6,4.95,11.5,6.4,12.2,4.2,13.2,5.6,14.1,3.6,15,4.55],
[0.2,3.35,1,3.9,2,4.2,5,2.95,10,3.35,11.1,1.9,12.0,2.95,12.7,2.05,13.6,3.15,14.5,2.2,15,1.9],
[0.1,2.2,1,2.75,2,3.15,5,4.2,10,2.4,10.9,5.6,11.9,4.2,12.8,2.95,13.4,1.9,14.2,4.95,15,2.75]
];
// Frequently measured subjects near the lower edge of the band (to year 15)
const bandLow15 = [
[0.2,2.4,1,3.15,2,2.95,5,2.2,10,1.4,10.7,2.75,11.6,0.45,12.5,2.2,13.4,0.8,14.3,2.55,15,1.2],
[0.1,1.9,1,2.4,2,3.35,5,2.75,10,2.4,10.9,0.8,11.8,2.4,12.7,0.2,13.6,1.9,14.5,0.65,15,2.05],
[0.3,0.8,1,1.6,2,2.55,5,1.9,10,0.45,11.1,2.2,12.0,1.2,12.9,2.75,13.8,0.45,14.6,1.75,15,0.8],
[0.1,2.95,1,3.6,2,2.2,5,3.15,10,2.95,10.6,1.4,11.4,2.95,12.2,0.65,13.1,2.4,14.0,1.2,15,2.4],
[0.2,1.4,1,2.05,2,1.6,5,2.4,10,1.9,11.2,0.45,12.3,1.9,13.2,2.95,14.1,0.8,14.8,2.2,15,1.75],
[0.1,0.45,1,1.2,2,2.4,5,1.6,10,2.2,10.8,1.6,11.7,0.2,12.6,1.4,13.5,2.4,14.4,0.45,15,1.4],
[0.4,2.2,1,2.75,2,3.15,5,2.55,10,0.8,11.0,2.55,11.9,1.6,12.8,0.45,13.7,1.9,14.7,1.2,15,0.45],
[0.1,1.6,1,2.2,2,2.95,5,3.6,10,3.15,10.7,1.9,11.5,0.8,12.4,2.4,13.3,1.2,14.2,2.95,15,2.55]
];

const groups = [
  {name: "to25", data: followTo25, w: 1},
  {name: "to20", data: followTo20, w: 1},
  {name: "to15", data: followTo15, w: 1.3},
  {name: "to10", data: followTo10, w: 1.5},
  {name: "to5", data: followTo5, w: 1.9},
  {name: "to2", data: followTo2, w: 2.2},
  {name: "band10", data: bandTo10, w: 3},
  {name: "bandLow", data: bandLow, w: 2.4},
  {name: "bandHigh", data: bandHigh, w: 3},
  {name: "band15", data: bandTo15, w: 3},
  {name: "bandLow15", data: bandLow15, w: 1.8}
];
const points = [];
let id = 0;
for (const g of groups) {
  for (const traj of g.data) {
    for (let i = 0; i < traj.length; i += 2) points.push({id, group: g.name, year: traj[i], value: traj[i + 1]});
    id++;
  }
}

const xMinor = d3.range(0, 30.0001, 0.5);
const yMinor = d3.range(-10, 10.0001, 0.2);
const gray = "#9a9a9a";

const lineMarks = groups.slice().reverse().map(g => Plot.line(points.filter(p => p.group === g.name), {
  x: "year", y: "value", z: "id", stroke: "#000", strokeWidth: g.w
}));

const chart = Plot.plot({
  width: 1021,
  height: 728,
  marginTop: 32,
  marginBottom: 66,
  marginLeft: 140,
  marginRight: 14,
  insetLeft: 7,
  insetRight: 3,
  insetTop: 4,
  insetBottom: 9,
  style: {fontFamily: "'Liberation Sans', Arial, sans-serif", fontSize: "13px", color: "#222", background: "transparent"},
  x: {domain: [0, 30]},
  y: {domain: [-10, 10]},
  marks: [
    ...lineMarks,
    Plot.frame({stroke: gray}),
    Plot.axisX(xMinor, {tickSize: 4, tickFormat: () => "", stroke: gray, label: null}),
    Plot.axisX(xTicks, {tickSize: 8, tickPadding: 4, tickFormat: d => d.toFixed(1), stroke: gray, fill: "#222", label: null}),
    Plot.axisY(yMinor, {tickSize: 3, tickFormat: () => "", stroke: gray, label: null}),
    Plot.axisY(yTicks, {tickSize: 5, tickPadding: 6, tickFormat: d => d.toFixed(2), stroke: gray, fill: "#222", label: null})
  ]
});
document.getElementById("chart").appendChild(chart);
</script>
</body></html>
